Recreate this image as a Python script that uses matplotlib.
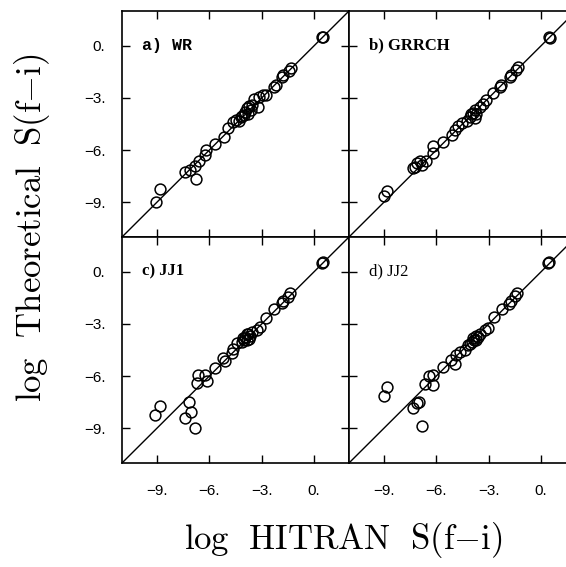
import numpy as np
import matplotlib
matplotlib.use('Agg')
import matplotlib.pyplot as plt

plt.rcParams['mathtext.fontset'] = 'cm'

# log HITRAN S(f-i) (x) vs log theoretical S(f-i) (y)
hitran_a = [0.53, 0.45, -1.33, -1.43, -1.77, -1.84, -2.19, -2.28, -2.76, -3.14, -3.42,
            -3.71, -3.86, -3.94, -4.03, -3.23, -4.18, -4.47, -4.66, -4.94, -5.13, -5.65,
            -6.18, -6.24, -6.60, -6.84, -7.13, -7.41, -6.79, -8.84, -9.03,
            -3.60, -3.80, -4.10, -4.30, -3.55, -2.95]
theo_a = [0.48, 0.52, -1.30, -1.43, -1.68, -1.82, -2.26, -2.39, -2.83, -2.93, -3.08,
          -3.46, -3.59, -3.79, -3.98, -3.50, -4.11, -4.26, -4.36, -4.74, -5.26, -5.64,
          -5.98, -6.27, -6.65, -6.90, -7.13, -7.28, -7.65, -8.22, -9.00,
          -3.70, -3.95, -4.05, -4.35, -3.40, -2.85]

hitran_b = [0.44, 0.50, -1.33, -1.42, -1.71, -1.80, -2.28, -2.37, -2.75, -3.13, -3.32, -3.51,
            -3.80, -3.89, -3.80, -4.08, -4.27, -4.55, -4.74, -4.93, -5.12, -5.64, -6.17,
            -6.20, -6.58, -6.93, -7.08, -7.34, -8.82, -9.01, -3.70, -4.00, -6.80, -7.20]
theo_b = [0.52, 0.46, -1.20, -1.40, -1.68, -1.82, -2.26, -2.39, -2.73, -3.12, -3.35, -3.54,
          -3.69, -3.88, -4.17, -4.11, -4.30, -4.45, -4.61, -4.84, -5.12, -5.56, -5.79,
          -6.18, -6.65, -6.62, -6.75, -7.04, -8.37, -8.66, -3.95, -3.95, -6.85, -6.95]

hitran_c = [0.53, 0.47, -1.37, -1.47, -1.79, -1.85, -2.29, -2.75, -3.09, -3.28, -3.57, -3.76,
            -3.95, -4.05, -3.85, -4.14, -4.39, -4.62, -4.72, -5.10, -5.19, -5.67, -6.24,
            -6.15, -6.62, -6.72, -7.16, -7.06, -7.39, -6.81, -8.85, -9.10,
            -3.65, -3.85, -4.00, -3.70]
theo_c = [0.57, 0.52, -1.20, -1.43, -1.66, -1.82, -2.16, -2.64, -3.15, -3.35, -3.44, -3.58,
          -3.73, -3.82, -3.92, -4.02, -4.11, -4.46, -4.65, -5.16, -4.97, -5.54, -5.93,
          -6.31, -5.93, -6.41, -7.51, -8.09, -8.41, -8.99, -7.74, -8.22,
          -3.70, -3.60, -3.90, -3.85]

hitran_d = [0.48, 0.42, -1.37, -1.49, -1.75, -1.81, -2.25, -2.70, -3.05, -3.24, -3.47, -3.71,
            -3.85, -3.96, -3.71, -4.19, -4.38, -4.67, -4.86, -5.14, -4.95, -5.62, -6.19,
            -6.67, -6.44, -6.19, -7.09, -7.33, -7.01, -6.82, -8.80, -8.99,
            -3.60, -3.90, -4.05]
theo_d = [0.58, 0.53, -1.21, -1.40, -1.67, -1.83, -2.12, -2.60, -3.21, -3.37, -3.56, -3.71,
          -3.90, -4.04, -3.94, -4.23, -4.48, -4.62, -4.81, -5.06, -5.29, -5.48, -5.96,
          -6.44, -6.02, -6.54, -7.56, -7.85, -7.50, -8.85, -6.63, -7.12,
          -3.75, -3.80, -4.15]

labels = ['a) WR', 'b) GRRCH', 'c) JJ1', 'd) JJ2']
ticks = [-9, -6, -3, 0]
ticklabels = ['\u22129.', '\u22126.', '\u22123.', '0.']

fig = plt.figure(figsize=(5.66, 5.67), dpi=100)

W, H = 566.0, 567.0
x0s = [122 / W, 349 / W]
y0s = [1 - 237 / H, 1 - 463 / H]
aw, ah = 227 / W, 226 / H

panels = [(hitran_a, theo_a), (hitran_b, theo_b), (hitran_c, theo_c), (hitran_d, theo_d)]
label_fonts = [dict(family='Liberation Mono', weight='bold'),
               dict(family='Liberation Serif', weight='bold'),
               dict(family='Liberation Serif', weight='bold'),
               dict(family='Liberation Serif')]

for i, (xs, ys) in enumerate(panels):
    row, col = divmod(i, 2)
    ax = fig.add_axes([x0s[col], y0s[row], aw, ah])
    ax.plot([-11, 2], [-11, 2], color='black', lw=1.0)
    ax.plot(xs, ys, 'o', mfc='none', mec='black', ms=7.8, mew=1.1)
    ax.set_xlim(-11, 2)
    ax.set_ylim(-11, 2)
    ax.set_xticks(ticks)
    ax.set_yticks(ticks)
    ax.tick_params(direction='in', length=6, width=1, top=True, right=True,
                   labelsize=11, pad=12)
    if col == 0:
        ax.set_yticklabels(ticklabels, family='Liberation Sans')
    else:
        ax.set_yticklabels([])
    if row == 1:
        ax.set_xticklabels(ticklabels, family='Liberation Sans')
        ax.tick_params(axis='x', pad=15)
    else:
        ax.set_xticklabels([])
    for s in ax.spines.values():
        s.set_linewidth(1.2)
    ax.text(-9.85, 0.0, labels[i], fontsize=12, va='center', ha='left', **label_fonts[i])

fig.text(343 / W, 1 - 540 / H, r'$\mathrm{log\ \ HITRAN\ \ S(f{-}i)}$',
         fontsize=25, ha='center', va='center')
fig.text(32 / W, 1 - 228 / H, r'$\mathrm{log\ \ Theoretical\ \ S(f{-}i)}$',
         fontsize=25, ha='center', va='center', rotation=90)

fig.savefig('out.png', dpi=100)
